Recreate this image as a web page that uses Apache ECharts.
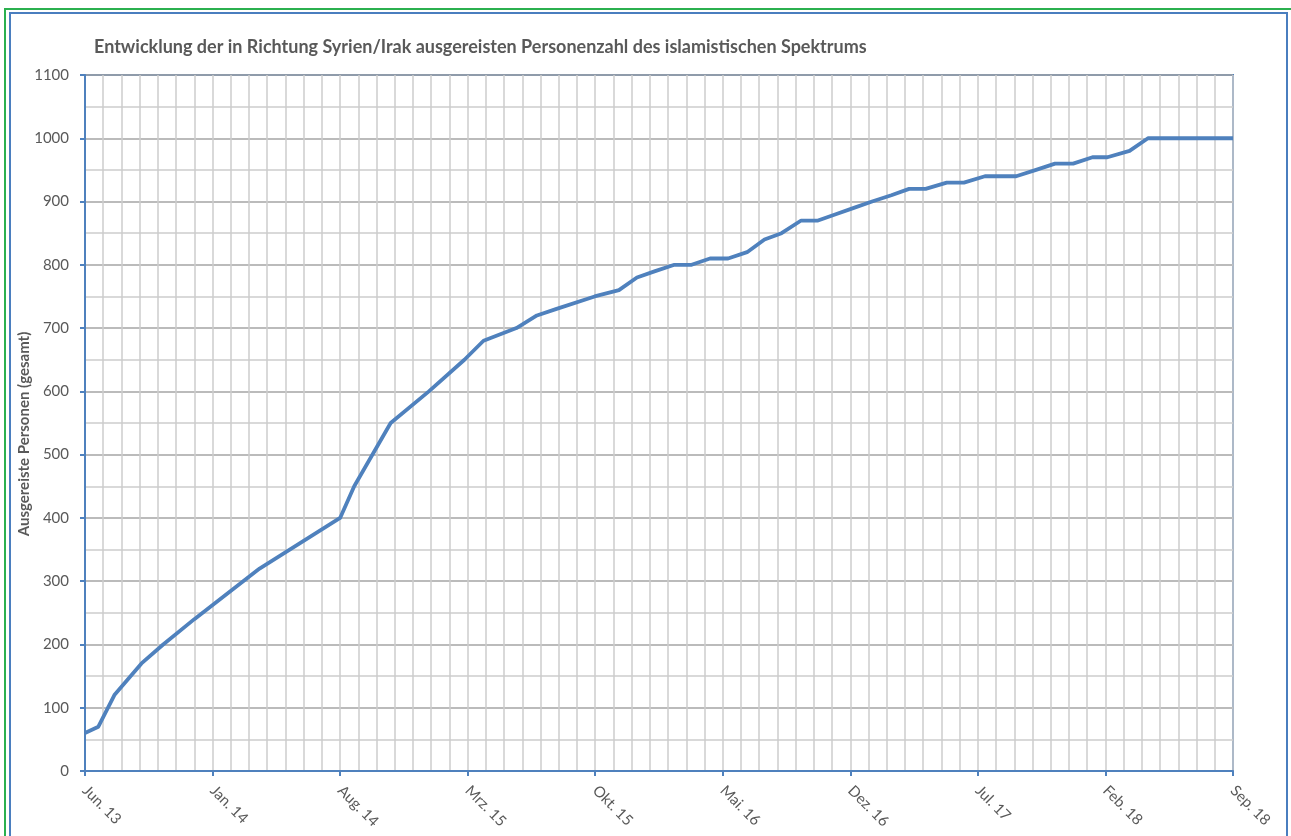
<!DOCTYPE html>
<html>
<head>
<meta charset="utf-8">
<script src="https://cdn.jsdelivr.net/npm/echarts@6/dist/echarts.min.js"></script>
<style>
  html, body { margin: 0; padding: 0; background: #ffffff; }
  #wrap { position: relative; width: 1291px; height: 836px; overflow: hidden; }
  #chart { position: absolute; left: 0; top: 0; width: 1291px; height: 836px; }
  .frame-outer { position: absolute; left: 4px; top: 8px; width: 1290px; height: 840px;
                 border: 2px solid #2bb04f; box-sizing: border-box; pointer-events: none; }
  .frame-inner { position: absolute; left: 9px; top: 12px; width: 1279px; height: 836px;
                 border: 2px solid #4a7ebf; box-sizing: border-box; pointer-events: none; }
</style>
</head>
<body>
<div id="wrap">
  <div id="chart"></div>
  <div class="frame-outer"></div>
  <div class="frame-inner"></div>
</div>
<script>
// Stichtage und kumulierte Zahl ausgereister Personen
const dates = [
  '2013-06-01', '2013-06-23', '2013-07-20', '2013-09-04', '2013-10-10', '2013-12-01',
  '2014-03-19', '2014-08-01', '2014-08-25', '2014-10-25', '2014-12-28', '2015-02-24',
  '2015-03-28', '2015-05-22', '2015-06-25', '2015-07-27', '2015-09-30', '2015-11-10',
  '2015-12-10', '2016-01-10', '2016-02-11', '2016-03-10', '2016-04-10', '2016-05-10',
  '2016-06-11', '2016-07-10', '2016-08-08', '2016-09-10', '2016-10-08', '2016-11-07',
  '2016-12-07', '2017-01-07', '2017-02-08', '2017-03-08', '2017-04-05', '2017-05-10',
  '2017-06-08', '2017-07-13', '2017-09-04', '2017-10-07', '2017-11-08', '2017-12-08',
  '2018-01-10', '2018-02-04', '2018-03-11', '2018-04-11', '2018-09-01'
];
const persons = [
  60, 70, 120, 170, 200, 240,
  320, 400, 450, 550, 600, 650,
  680, 700, 720, 730, 750, 760,
  780, 790, 800, 800, 810, 810,
  820, 840, 850, 870, 870, 880,
  890, 900, 910, 920, 920, 930,
  930, 940, 940, 950, 960, 960,
  970, 970, 980, 1000, 1000
];
// Achsenbeschriftungen (alle 7 Monate ab Juni 2013)
const xTickLabels = ['Jun. 13', 'Jan. 14', 'Aug. 14', 'Mrz. 15', 'Okt. 15',
                     'Mai. 16', 'Dez. 16', 'Jul. 17', 'Feb. 18', 'Sep. 18'];
const yTickValues = [0, 100, 200, 300, 400, 500, 600, 700, 800, 900, 1000, 1100];

const startYear = 2013, startMonth = 6;
// Datum -> Monate seit Juni 2013 (mit Tagesanteil)
function monthOffset(s) {
  const [y, m, d] = s.split('-').map(Number);
  const days = new Date(y, m, 0).getDate();
  return (y - startYear) * 12 + (m - startMonth) + (d - 1) / days;
}
const seriesData = dates.map((d, i) => [monthOffset(d), persons[i]]);

const font = 'Lato, "Open Sans", sans-serif';
const txt = '#595959';
const blue = '#4f81bd';

const chart = echarts.init(document.getElementById('chart'), null, { renderer: 'canvas' });
chart.setOption({
  animation: false,
  title: {
    text: 'Entwicklung der in Richtung Syrien/Irak ausgereisten Personenzahl des islamistischen Spektrums',
    left: 89, top: 33,
    textStyle: { fontFamily: font, fontSize: 18, fontWeight: 'bold', color: txt }
  },
  grid: {
    left: 85, top: 75, right: 58, bottom: 65,
    show: true, borderColor: blue, borderWidth: 2, backgroundColor: 'transparent'
  },
  xAxis: {
    type: 'value',
    min: 0, max: 63, interval: 7,
    axisLine: { show: true, onZero: false, lineStyle: { color: blue, width: 2 } },
    axisTick: { show: true, length: 5, lineStyle: { color: blue, width: 2 } },
    axisLabel: {
      rotate: -45, margin: 17, fontFamily: font, fontSize: 15, color: txt,
      formatter: v => xTickLabels[Math.round(v / 7)] || ''
    },
    splitLine: { show: true, lineStyle: { color: '#cdcdcd', width: 1.5 } },
    minorTick: { show: false, splitNumber: 7 },
    minorSplitLine: { show: true, lineStyle: { color: '#cdcdcd', width: 1.5 } }
  },
  yAxis: {
    type: 'value',
    min: yTickValues[0], max: yTickValues[yTickValues.length - 1], interval: 100,
    name: 'Ausgereiste Personen (gesamt)',
    nameLocation: 'middle', nameGap: 53, nameRotate: 90,
    nameMoveOverlap: false,
    nameTextStyle: { fontFamily: font, fontSize: 15, fontWeight: 'bold', color: txt,
                     padding: [0, 22, 0, 0] },
    axisLine: { show: true, lineStyle: { color: blue, width: 2 } },
    axisTick: { show: true, length: 5, lineStyle: { color: blue, width: 2 } },
    axisLabel: { margin: 16, fontFamily: font, fontSize: 15, color: txt, formatter: v => String(v) },
    splitLine: { show: true, lineStyle: { color: '#a5a5a5', width: 1.5 } },
    minorTick: { show: false, splitNumber: 2 },
    minorSplitLine: { show: true, lineStyle: { color: '#cdcdcd', width: 1.5 } }
  },
  series: [{
    type: 'line',
    data: seriesData,
    showSymbol: false,
    symbol: 'none',
    lineStyle: { color: blue, width: 3.8, join: 'round' },
    z: 5
  }]
});
</script>
</body>
</html>
